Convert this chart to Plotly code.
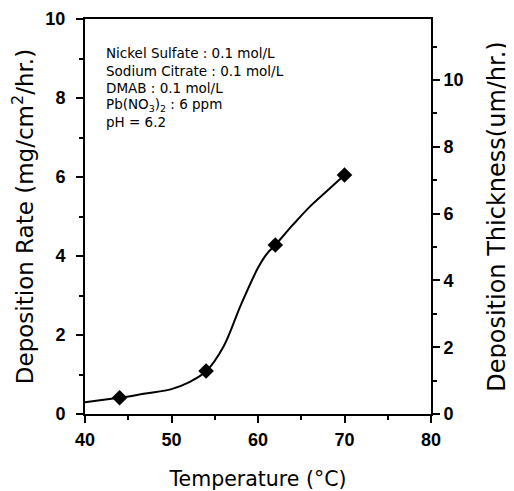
import plotly.graph_objects as go

# measured points
temp = [44, 54, 62, 70]
rate = [0.41, 1.09, 4.28, 6.05]

# smooth fitted curve
curve_x = [40, 44, 47, 50, 52, 54, 56, 58, 60, 61, 62, 64, 66, 68, 70]
curve_y = [0.30, 0.41, 0.52, 0.63, 0.80, 1.08, 1.70, 2.75, 3.70, 4.05, 4.28, 4.78, 5.25, 5.65, 6.05]

notes = [
    "Nickel Sulfate : 0.1 mol/L",
    "Sodium Citrate : 0.1 mol/L",
    "DMAB : 0.1 mol/L",
    "Pb(NO<sub>3</sub>)<sub>2</sub> : 6 ppm",
    "pH = 6.2",
]

FONT = "Arial, Liberation Sans, sans-serif"
TFONT = "DejaVu Sans, sans-serif"

fig = go.Figure()
fig.add_trace(go.Scatter(x=curve_x, y=curve_y, mode="lines", line=dict(color="black", width=2, shape="spline", smoothing=1.0),
                         showlegend=False, hoverinfo="skip"))
fig.add_trace(go.Scatter(x=temp, y=rate, mode="markers", marker=dict(symbol="diamond", size=12, color="black"),
                         showlegend=False))
fig.add_trace(go.Scatter(x=[None], y=[None], yaxis="y2", showlegend=False))

for i, t in enumerate(notes):
    fig.add_annotation(x=0.055, y=0.913 - i * 0.0437, xref="paper", yref="paper", text=t, showarrow=False,
                       xanchor="left", yanchor="middle", font=dict(family=TFONT, size=13.5, color="black"))

axis_common = dict(showline=True, linecolor="black", linewidth=2, ticks="outside", ticklen=7, tickwidth=2,
                   tickcolor="black", showgrid=False, zeroline=False, automargin=False,
                   tickfont=dict(family=FONT, size=18, color="black", weight="bold"))

fig.update_layout(
    width=514, height=491,
    margin=dict(l=77, r=91, t=11, b=85),
    paper_bgcolor="white", plot_bgcolor="white",
    xaxis=dict(range=[40, 80], dtick=10, tick0=40, mirror=True, ticklabelstandoff=1,
               minor=dict(dtick=5, ticks="outside", ticklen=4, tickcolor="black", tickwidth=2),
               title=dict(text="Temperature (°C)", font=dict(family=TFONT, size=20.5, color="black"), standoff=23),
               **axis_common),
    yaxis=dict(range=[0, 10], dtick=2, tick0=0, ticklabelstandoff=7,
               minor=dict(dtick=1, ticks="outside", ticklen=4, tickcolor="black", tickwidth=2),
               title=dict(text="Deposition Rate (mg/cm<sup>2</sup>/hr.)", font=dict(family=TFONT, size=23, color="black"), standoff=15),
               **axis_common),
    yaxis2=dict(range=[0, 11.83], dtick=2, tick0=0, overlaying="y", side="right", ticklabelstandoff=0,
                minor=dict(dtick=1, ticks="outside", ticklen=4, tickcolor="black", tickwidth=2),
                title=dict(text="Deposition Thickness(um/hr.)", font=dict(family=TFONT, size=24, color="black"), standoff=26),
                **axis_common),
)

fig.write_html("out.html")
